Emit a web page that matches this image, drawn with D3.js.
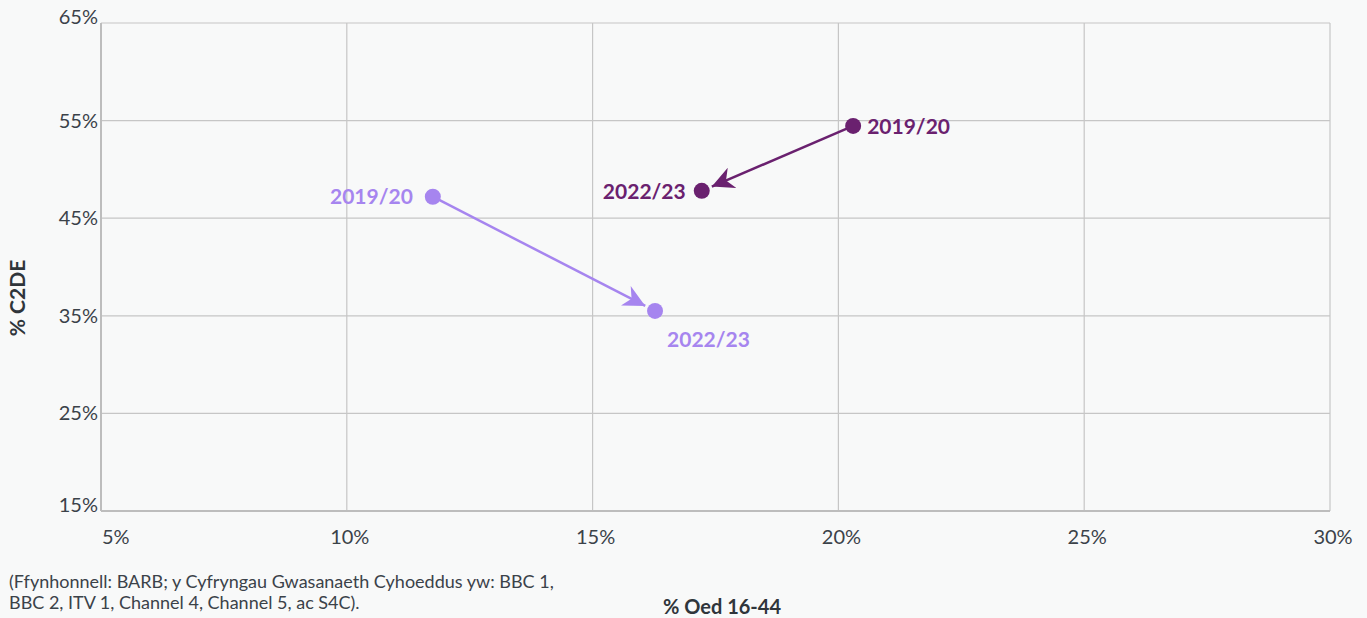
<!DOCTYPE html>
<html>
<head>
<meta charset="utf-8">
<script src="https://cdn.jsdelivr.net/npm/d3@7"></script>
<style>
body { margin: 0; background: #f8f9f9; }
svg { display: block; font-family: Lato, "Open Sans", sans-serif; }
</style>
</head>
<body>
<svg id="chart" width="1367" height="618"></svg>
<script>
// data
var years = ["2019/20", "2022/23"];
var lightX = [11.75, 16.27];   // % Oed 16-44
var lightY = [47.2, 35.5];     // % C2DE
var darkX = [20.3, 17.22];
var darkY = [54.45, 47.8];
var xTicks = [5, 10, 15, 20, 25, 30];
var yTicks = [15, 25, 35, 45, 55, 65];

var lightColor = "#a685ef";
var darkColor = "#6a216f";

var svg = d3.select("#chart");
var plotLeft = 101, plotRight = 1330, plotTop = 23, plotBottom = 511;

var x = d3.scaleLinear().domain([5, 30]).range([plotLeft, plotRight]);
var y = d3.scaleLinear().domain([15, 65]).range([plotBottom, plotTop]);

// gridlines
svg.append("g")
.selectAll("line")
.data(xTicks)
.enter().append("line")
.attr("x1", function (d) { return x(d); })
.attr("x2", function (d) { return x(d); })
.attr("y1", plotTop)
.attr("y2", plotBottom)
.style("stroke", "#c6c6c6")
.style("stroke-width", 1.2);

svg.append("g")
.selectAll("line")
.data(yTicks)
.enter().append("line")
.attr("x1", plotLeft)
.attr("x2", plotRight)
.attr("y1", function (d) { return y(d); })
.attr("y2", function (d) { return y(d); })
.style("stroke", "#c6c6c6")
.style("stroke-width", 1.2);

// axis lines
svg.append("line")
.attr("x1", plotLeft).attr("x2", plotLeft)
.attr("y1", plotTop).attr("y2", plotBottom)
.style("stroke", "#bdbdbd").style("stroke-width", 2);
svg.append("line")
.attr("x1", plotLeft).attr("x2", plotRight)
.attr("y1", plotBottom).attr("y2", plotBottom)
.style("stroke", "#bdbdbd").style("stroke-width", 2);

// tick labels
svg.append("g")
.selectAll("text")
.data(xTicks)
.enter().append("text")
.text(function (d) { return d + "%"; })
.attr("x", function (d, i) { return i == 0 ? x(d) + 1 : x(d) + 3; })
.attr("y", 544)
.attr("text-anchor", function (d, i) { return i == 0 ? "start" : "middle"; })
.attr("font-size", 20)
.attr("fill", "#3b4249");

svg.append("g")
.selectAll("text")
.data(yTicks)
.enter().append("text")
.text(function (d) { return d + "%"; })
.attr("x", plotLeft - 3)
.attr("y", function (d, i) { return (i == 0 || i == yTicks.length - 1) ? y(d) + 1 : y(d) + 7; })
.attr("text-anchor", "end")
.attr("font-size", 20)
.attr("fill", "#3b4249");

// axis titles
svg.append("text")
.text("% C2DE")
.attr("transform", "translate(25,298) rotate(-90)")
.attr("text-anchor", "middle")
.attr("font-size", 21)
.attr("font-weight", "bold")
.attr("fill", "#2f353b");

svg.append("text")
.text("% Oed 16-44")
.attr("x", 722)
.attr("y", 614)
.attr("text-anchor", "middle")
.attr("font-size", 20)
.attr("font-weight", "bold")
.attr("fill", "#2f353b");

// source note
svg.append("text")
.text("(Ffynhonnell: BARB; y Cyfryngau Gwasanaeth Cyhoeddus yw: BBC 1,")
.attr("x", 9).attr("y", 588)
.attr("font-size", 18).attr("fill", "#3b4249");
svg.append("text")
.text("BBC 2, ITV 1, Channel 4, Channel 5, ac S4C).")
.attr("x", 9).attr("y", 609)
.attr("font-size", 18).attr("fill", "#3b4249");

// arrow markers
var defs = svg.append("defs");
[["light", lightColor], ["dark", darkColor]].forEach(function (m) {
	defs.append("marker")
	.attr("id", "arrow-" + m[0])
	.attr("viewBox", "0 0 10 10")
	.attr("refX", 10)
	.attr("refY", 5)
	.attr("markerWidth", 22)
	.attr("markerHeight", 22)
	.attr("markerUnits", "userSpaceOnUse")
	.attr("orient", "auto")
	.append("path")
	.attr("d", "M0,0 L10,5 L0,10 L3,5 Z")
	.attr("fill", m[1]);
});

function drawSeries(xs, ys, color, name, labelPos) {
	var x1 = x(xs[0]), y1 = y(ys[0]), x2 = x(xs[1]), y2 = y(ys[1]);
	var len = Math.sqrt((x2 - x1) * (x2 - x1) + (y2 - y1) * (y2 - y1));
	var stop = 11;
	svg.append("line")
	.attr("x1", x1).attr("y1", y1)
	.attr("x2", x2 - (x2 - x1) / len * stop)
	.attr("y2", y2 - (y2 - y1) / len * stop)
	.style("stroke", color)
	.style("stroke-width", 2.5)
	.attr("marker-end", "url(#arrow-" + name + ")");

	for (var i = 0; i < 2; i++) {
		svg.append("circle")
		.attr("cx", x(xs[i]))
		.attr("cy", y(ys[i]))
		.attr("r", 8)
		.attr("fill", color);
		svg.append("text")
		.text(years[i])
		.attr("x", x(xs[i]) + labelPos[i][0])
		.attr("y", y(ys[i]) + labelPos[i][1])
		.attr("text-anchor", labelPos[i][2])
		.attr("font-size", 21)
		.attr("font-weight", "bold")
		.attr("fill", color);
	}
}

drawSeries(lightX, lightY, lightColor, "light", [[-20, 7, "end"], [12, 36, "start"]]);
drawSeries(darkX, darkY, darkColor, "dark", [[14, 8, "start"], [-16, 8, "end"]]);
</script>
</body>
</html>
